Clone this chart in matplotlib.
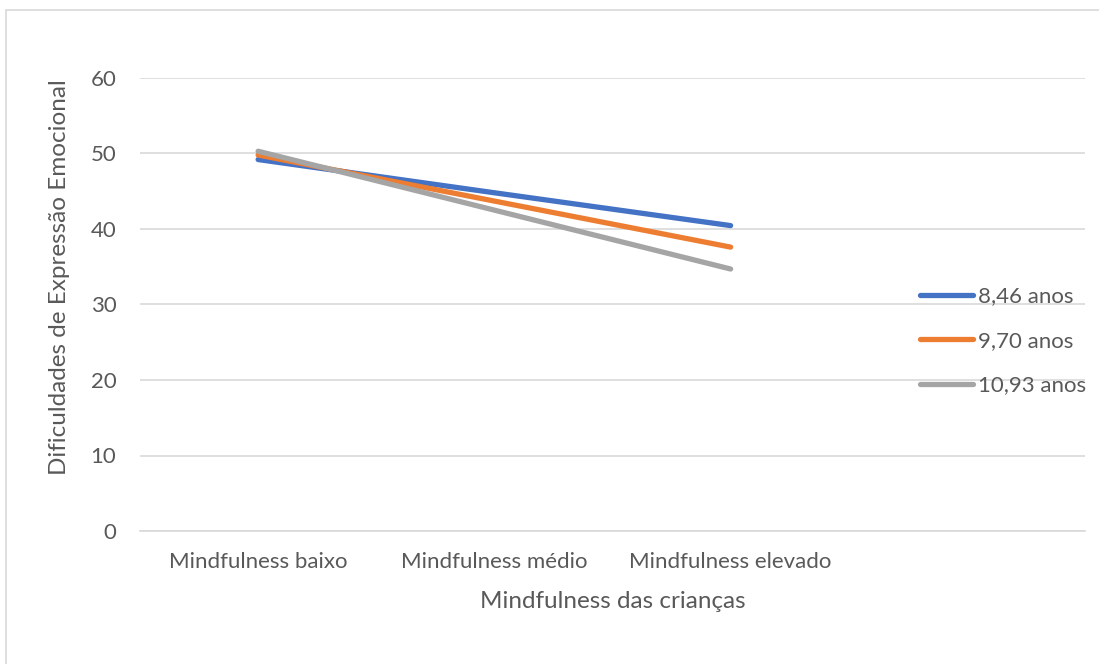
import matplotlib
matplotlib.use("Agg")
import matplotlib.pyplot as plt
from matplotlib.patches import Rectangle

categories = ["Mindfulness baixo", "Mindfulness médio", "Mindfulness elevado", ""]
series_names = ["8,46 anos", "9,70 anos", "10,93 anos"]
vals_846 = [49.2, 44.8, 40.45]
vals_970 = [49.8, 43.7, 37.6]
vals_1093 = [50.3, 42.5, 34.7]
colors = ["#4472C4", "#ED7D31", "#A5A5A5"]
yticks = [0, 10, 20, 30, 40, 50, 60]

plt.rcParams['font.family'] = ['Lato', 'DejaVu Sans']
txt = "#595959"
W, H = 1099, 664
fig = plt.figure(figsize=(W/100, H/100), dpi=100)
fig.patches.append(Rectangle((6/W, -0.1), 1.2, 1 - 10/H + 0.1, transform=fig.transFigure,
                             fill=False, edgecolor="#D9D9D9", linewidth=1.2))
ax = fig.add_axes([140/W, 1 - 531/H, (1085 - 140)/W, (531 - 78)/H])

x = list(range(len(categories)))
for vals, name, c in zip([vals_846, vals_970, vals_1093], series_names, colors):
    ax.plot(x[:len(vals)], vals, color=c, linewidth=3.8, solid_capstyle='round', label=name)

ax.set_xlim(-0.5, len(categories) - 0.5)
ax.set_ylim(0, 60)
ax.set_yticks(yticks)
ax.set_xticks(x)
ax.set_xticklabels(categories)
ax.grid(axis='y', color="#D9D9D9", linewidth=1.2)
ax.set_axisbelow(True)
for s in ['top', 'right', 'left']:
    ax.spines[s].set_visible(False)
ax.spines['bottom'].set_color("#D9D9D9")
ax.spines['bottom'].set_linewidth(1.2)
ax.tick_params(axis='both', length=0, labelsize=16, colors=txt)
ax.tick_params(axis='y', pad=17)
ax.tick_params(axis='x', pad=15)
ax.set_xlabel("Mindfulness das crianças", fontsize=17.5, color=txt, labelpad=14)
ax.set_ylabel("Dificuldades de Expressão Emocional", fontsize=17.5, color=txt, labelpad=15, y=0.56)

leg = ax.legend(loc='center left', bbox_to_anchor=(920/W, 1 - 341/H), bbox_transform=fig.transFigure,
                frameon=False, fontsize=16, handlelength=2.4, handletextpad=0.2,
                labelspacing=1.1, borderpad=0, borderaxespad=0)
for t in leg.get_texts():
    t.set_color(txt)

fig.savefig("out.png", dpi=100)
